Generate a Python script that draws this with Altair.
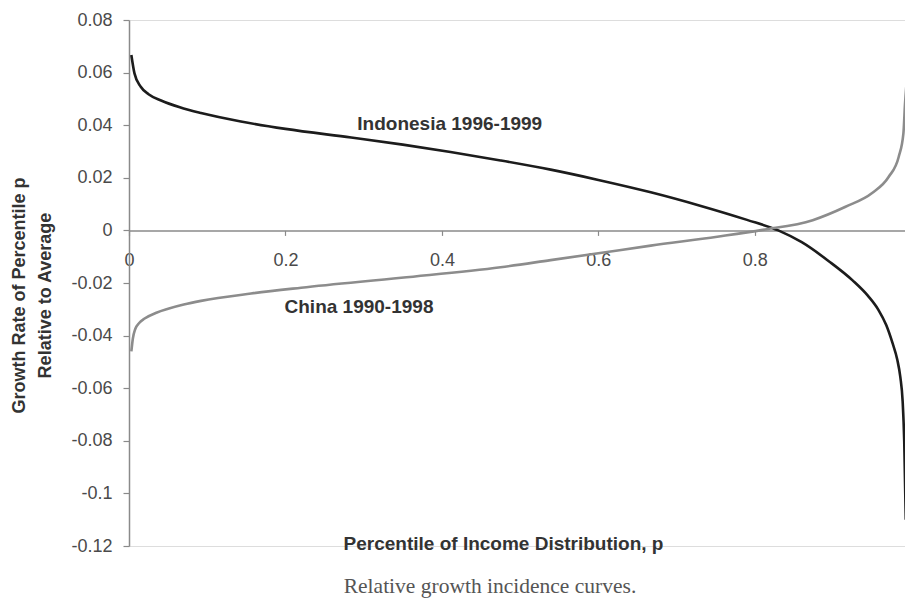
import altair as alt
import pandas as pd

# Indonesia 1996-1999 relative growth incidence curve
indo_p = [0.003, 0.007, 0.015, 0.025, 0.041, 0.065, 0.092, 0.143, 0.2, 0.284, 0.35,
          0.411, 0.475, 0.539, 0.6, 0.667, 0.73, 0.79, 0.83, 0.86, 0.895, 0.925,
          0.945, 0.958, 0.968, 0.976, 0.982, 0.986, 0.989, 0.991, 0.993]
indo_v = [0.0667, 0.0597, 0.0546, 0.0518, 0.0494, 0.0468, 0.0446, 0.0414, 0.0386, 0.0353, 0.0326,
          0.0298, 0.0266, 0.0231, 0.0192, 0.0145, 0.0094, 0.004, 0.0, -0.0045, -0.0118, -0.019,
          -0.025, -0.0302, -0.036, -0.0428, -0.049, -0.0557, -0.065, -0.08, -0.11]

# China 1990-1998 relative growth incidence curve
china_p = [0.003, 0.005, 0.008, 0.013, 0.02, 0.035, 0.05, 0.07, 0.092, 0.156, 0.22, 0.348, 0.475,
           0.539, 0.6, 0.667, 0.752, 0.81, 0.874, 0.916, 0.95, 0.971, 0.984, 0.99, 0.992, 0.994]
china_v = [-0.046, -0.041, -0.0375, -0.0352, -0.0335, -0.0313, -0.0298, -0.0282, -0.0268, -0.024,
           -0.0218, -0.018, -0.014, -0.0113, -0.0087, -0.0058, -0.0024, 0.0002, 0.0039, 0.009,
           0.0142, 0.0203, 0.028, 0.037, 0.048, 0.056]

series_names = ["Indonesia 1996-1999", "China 1990-1998"]
series_colors = ["#1c1c1c", "#8c8c8c"]

label_text = ["Indonesia 1996-1999", "China 1990-1998"]
label_p = [0.41, 0.294]
label_v = [0.0403, -0.0291]

y_ticks = [0.08, 0.06, 0.04, 0.02, 0, -0.02, -0.04, -0.06, -0.08, -0.1, -0.12]
x_ticks = [0, 0.2, 0.4, 0.6, 0.8]

df = pd.concat([
    pd.DataFrame({"p": indo_p, "v": indo_v, "series": series_names[0], "order": range(len(indo_p))}),
    pd.DataFrame({"p": china_p, "v": china_v, "series": series_names[1], "order": range(len(china_p))}),
])
labels = pd.DataFrame({"text": label_text, "p": label_p, "v": label_v})

W, H = 776, 526
FONT = "Liberation Sans"

x_scale = alt.Scale(domain=[0, 0.992], nice=False, zero=False)
y_scale = alt.Scale(domain=[-0.12, 0.08], nice=False)

x_axis = alt.Axis(
    values=x_ticks, offset=-H * 0.12 / 0.2, grid=False, labelExpr="toString(datum.value)",
    labelFlush=False, labelAlign="center",
    domainColor="#8a8a8a", domainWidth=1.5, tickColor="#8a8a8a", tickSize=5, tickWidth=1.2,
    labelFont=FONT, labelFontSize=18, labelColor="#4a4a4a", labelPadding=16,
    title="Percentile of Income Distribution, p", titleFont=FONT, titleFontSize=19,
    titleFontWeight="bold", titleColor="#333333", titleY=H * 0.12 / 0.2 - 3,
    titleX=374, titleAlign="center", titleBaseline="middle",
)
y_axis = alt.Axis(
    values=y_ticks, grid=False, labelExpr="toString(datum.value)",
    domainColor="#8a8a8a", domainWidth=1.5, tickColor="#8a8a8a", tickSize=6, tickWidth=1.2,
    labelFont=FONT, labelFontSize=18, labelColor="#4a4a4a", labelPadding=11,
    title=["Growth Rate of Percentile p", "Relative to Average"], titleFont=FONT,
    titleFontSize=18, titleFontWeight="bold", titleColor="#333333",
    titleLineHeight=26, titleX=-110, titleY=H / 2 + 12, titleBaseline="middle",
    titleAngle=-90, titleAlign="center",
)

lines = alt.Chart(df).mark_line(strokeWidth=2.6, clip=True, interpolate="monotone").encode(
    x=alt.X("p:Q", scale=x_scale, axis=x_axis),
    y=alt.Y("v:Q", scale=y_scale, axis=y_axis),
    color=alt.Color("series:N", scale=alt.Scale(domain=series_names, range=series_colors), legend=None),
    detail="series:N",
    order="order:Q",
)

texts = alt.Chart(labels).mark_text(
    font=FONT, fontSize=19, fontWeight="bold", color="#333333", align="center", baseline="middle"
).encode(
    x=alt.X("p:Q", scale=x_scale),
    y=alt.Y("v:Q", scale=y_scale),
    text="text:N",
)

chart = alt.layer(lines, texts).properties(
    width=W, height=H,
    autosize=alt.AutoSizeParams(type="none"),
    padding={"left": 129, "top": 20, "right": 0, "bottom": 54},
    title=alt.TitleParams(
        "Relative growth incidence curves.", orient="bottom", anchor="middle",
        font="Liberation Serif", fontSize=21.5, fontWeight="normal", color="#555555",
        dx=-27, offset=21,
    ),
).configure_view(stroke=None).configure(background="white")

chart.save("out.html", embed_options={"renderer": "svg", "actions": False})
